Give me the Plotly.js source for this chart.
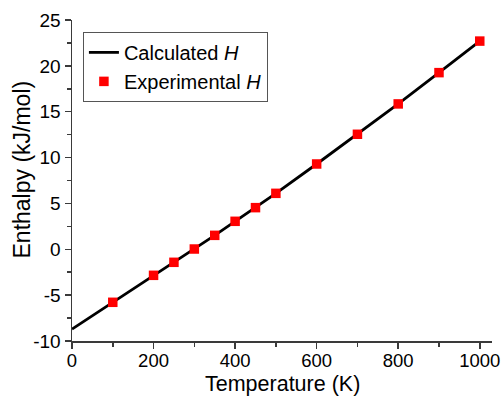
<!DOCTYPE html>
<html>
<head>
<meta charset="utf-8">
<script src="https://cdn.plot.ly/plotly-3.0.1.min.js"></script>
<style>html,body{margin:0;padding:0;background:#fff;}#chart{width:503px;height:396px;}</style>
</head>
<body>
<div id="chart"></div>
<script>
// Calculated enthalpy curve
const calcT = [0, 100, 200, 250, 300, 350, 400, 450, 500, 600, 700, 800, 900, 1000];
const calcH = [-8.7, -5.78, -2.84, -1.42, 0.03, 1.52, 3.05, 4.54, 6.1, 9.3, 12.54, 15.85, 19.26, 22.7];
// Experimental points
const expT = [100, 200, 250, 300, 350, 400, 450, 500, 600, 700, 800, 900, 1000];
const expH = [-5.78, -2.84, -1.42, 0.03, 1.52, 3.05, 4.54, 6.1, 9.3, 12.54, 15.85, 19.26, 22.7];
// Tick labels
const xTickVals = [0, 200, 400, 600, 800, 1000];
const xTickText = ['0', '200', '400', '600', '800', '1000'];
const yTickVals = [-10, -5, 0, 5, 10, 15, 20, 25];
const yTickText = ['-10', '-5', '0', '5', '10', '15', '20', '25'];

const font = 'Liberation Sans, Arial, sans-serif';
const axisColor = '#3a3a3a';

const traces = [
  {x: calcT, y: calcH, mode: 'lines', name: 'Calculated <i>H</i>',
   line: {color: '#000000', width: 2.8}},
  {x: expT, y: expH, mode: 'markers', name: 'Experimental <i>H</i>',
   marker: {symbol: 'square', color: '#ff0000', size: 9.5}}
];

const layout = {
  width: 503, height: 396,
  margin: {l: 72, r: 11, t: 20, b: 55},
  paper_bgcolor: '#ffffff', plot_bgcolor: '#ffffff',
  font: {family: font, size: 19, color: '#000000'},
  showlegend: true,
  legend: {x: 0.026, y: 0.963, xanchor: 'left', yanchor: 'top',
           bordercolor: '#555555', borderwidth: 1, bgcolor: '#ffffff',
           font: {family: font, size: 20, color: '#000000'},
           tracegroupgap: 0},
  xaxis: {range: [0, 1030], tickmode: 'array', tickvals: xTickVals, ticktext: xTickText,
          ticks: 'outside', ticklen: 6, tickwidth: 1.5, tickcolor: axisColor, ticklabelstandoff: -4,
          minor: {dtick: 100, tick0: 0, ticks: 'outside', ticklen: 4, tickwidth: 1.5, tickcolor: axisColor},
          showline: true, linecolor: axisColor, linewidth: 1.5, showgrid: false, zeroline: false,
          tickfont: {family: font, size: 18.5}},
  yaxis: {range: [-10, 25], tickmode: 'array', tickvals: yTickVals, ticktext: yTickText,
          ticks: 'outside', ticklen: 6, tickwidth: 1.5, tickcolor: axisColor,
          minor: {dtick: 2.5, tick0: -10, ticks: 'outside', ticklen: 4, tickwidth: 1.5, tickcolor: axisColor},
          showline: true, linecolor: axisColor, linewidth: 1.5, showgrid: false, zeroline: false,
          tickfont: {family: font, size: 19}},
  xaxis2: {overlaying: 'x', side: 'top', range: [0, 1030], tickmode: 'linear', tick0: 0, dtick: 100,
           ticks: 'inside', ticklen: 4, tickwidth: 1.5, tickcolor: axisColor, showticklabels: false,
           showline: true, linecolor: axisColor, linewidth: 1.5, showgrid: false, zeroline: false},
  yaxis2: {overlaying: 'y', side: 'right', range: [-10, 25], tickmode: 'linear', tick0: -10, dtick: 2.5,
           ticks: 'inside', ticklen: 4, tickwidth: 1.5, tickcolor: axisColor, showticklabels: false,
           showline: true, linecolor: axisColor, linewidth: 1.5, showgrid: false, zeroline: false},
  annotations: [
    {text: 'Enthalpy (kJ/mol)', xref: 'paper', yref: 'paper', x: -0.120, y: 0.533,
     xanchor: 'center', yanchor: 'middle', textangle: -90, showarrow: false,
     font: {family: font, size: 23, color: '#000000'}},
    {text: 'Temperature (K)', xref: 'paper', yref: 'paper', x: 0.5, y: -0.1745,
     xanchor: 'center', yanchor: 'bottom', showarrow: false, borderpad: 0,
     font: {family: font, size: 21.5, color: '#000000'}}
  ]
};

Plotly.newPlot('chart', traces, layout, {displayModeBar: false, staticPlot: true});
</script>
</body>
</html>
